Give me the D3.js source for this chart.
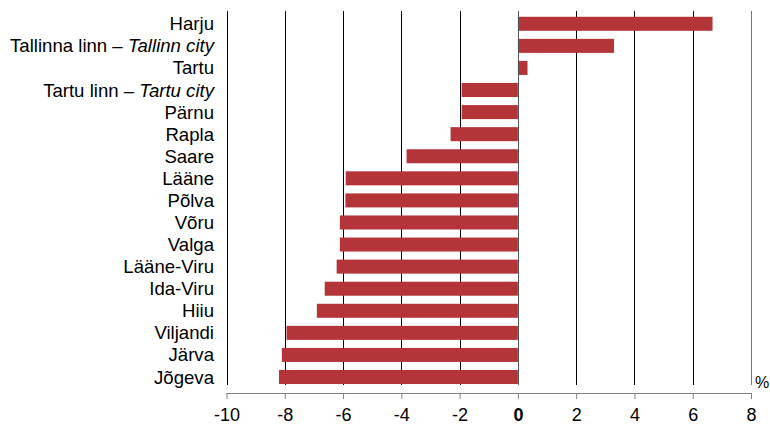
<!DOCTYPE html>
<html><head><meta charset="utf-8">
<script src="https://cdn.jsdelivr.net/npm/d3@7"></script>
<style>body{margin:0;background:#fff}svg{display:block}text{font-family:"Liberation Sans",Arial,sans-serif}</style>
</head><body><svg id="c" width="770" height="424"></svg>
<script>
const categories = ["Harju","Tallinna linn – |Tallinn city","Tartu","Tartu linn – |Tartu city","Pärnu","Rapla","Saare","Lääne","Põlva","Võru","Valga","Lääne-Viru","Ida-Viru","Hiiu","Viljandi","Järva","Jõgeva"];
const values = [6.68,3.30,0.33,-1.93,-1.93,-2.31,-3.82,-5.91,-5.92,-6.11,-6.11,-6.22,-6.63,-6.90,-7.94,-8.10,-8.20];
const ticks = [-10,-8,-6,-4,-2,0,2,4,6,8];

const svg = d3.select("#c");
const x = d3.scaleLinear().domain([-10,8]).range([226.5,751]);
const y = d3.scaleBand().domain(categories).range([12.8,388]).paddingInner(0.365).paddingOuter(0.18);

// gridlines
svg.append("g").selectAll("line").data(ticks).join("line")
  .attr("x1",d=>Math.round(x(d))+0.5).attr("x2",d=>Math.round(x(d))+0.5)
  .attr("y1",11).attr("y2",385)
  .attr("stroke",d=>(d===8)?"#777":"#000").attr("stroke-width",1);

// bars
svg.append("g").selectAll("rect").data(values).join("rect")
  .attr("x",(d)=>x(Math.min(0,d)))
  .attr("width",d=>Math.abs(x(d)-x(0)))
  .attr("y",(d,i)=>y(categories[i]))
  .attr("height",y.bandwidth())
  .attr("fill","#b3353a");

// zero line on top
svg.append("line").attr("x1",Math.round(x(0))+0.5).attr("x2",Math.round(x(0))+0.5)
  .attr("y1",11).attr("y2",385).attr("stroke","#555");

// category labels
const lab = svg.append("g").selectAll("text").data(categories).join("text")
  .attr("x",214).attr("y",d=>y(d)+y.bandwidth()/2)
  .attr("dy","0.35em").attr("text-anchor","end")
  .attr("font-size",18.6).attr("fill","#000");
lab.each(function(d){
  const parts = d.split("|");
  const t = d3.select(this);
  t.append("tspan").text(parts[0]);
  if(parts[1]) t.append("tspan").attr("font-style","italic").text(parts[1]);
});

// x axis
const axis = d3.axisBottom(x).tickValues(ticks).tickSize(6).tickFormat(d3.format("d"));
const ag = svg.append("g").attr("transform","translate(0,393)").call(axis);
ag.select(".domain").attr("stroke","#808080").attr("d",`M${x(-10)},0.5H${x(8)}`);
ag.selectAll(".tick line").attr("stroke","#808080");
ag.selectAll(".tick text").attr("font-size",18).attr("fill","#000").attr("dy",null).attr("y",28)
  .attr("font-weight",d=>d===0?"bold":"normal")
  .style("font-family","Liberation Sans, Arial, sans-serif")
  .text(d=>d<0?"-"+Math.abs(d):d);

svg.append("text").attr("x",755).attr("y",388).attr("font-size",16).text("%");
</script></body></html>
